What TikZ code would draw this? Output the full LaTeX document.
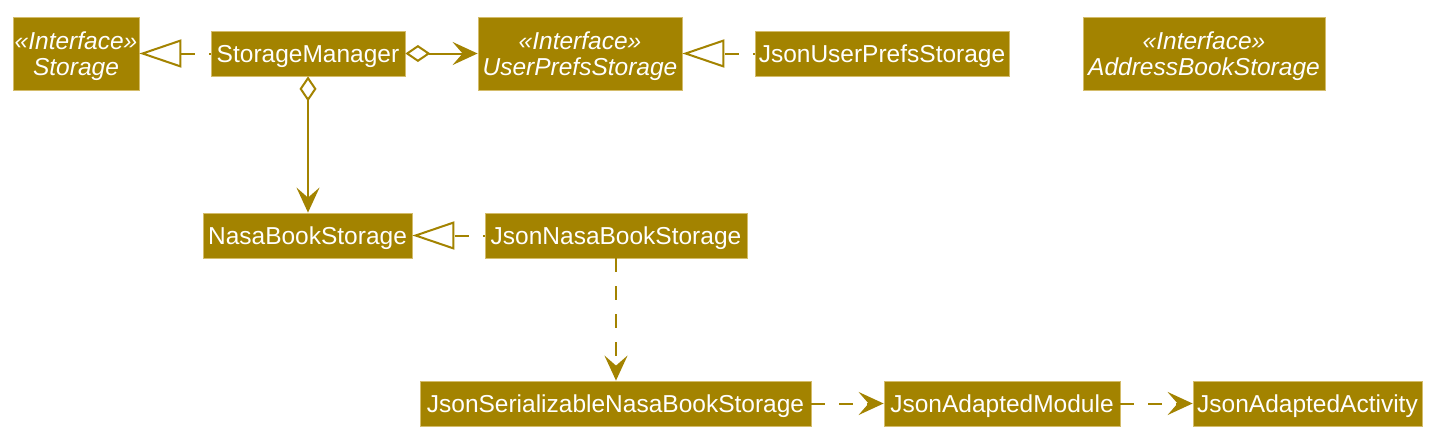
\documentclass[tikz,border=0pt]{standalone}
\usepackage{fontspec}
\setmainfont{Liberation Sans}
\usetikzlibrary{arrows.meta}
\definecolor{stor}{HTML}{A38300}
\definecolor{bord}{HTML}{D4BC6A}
\newcommand{\ifacetext}[1]{\rule{0pt}{22.7pt}«Interface»\\#1}
\begin{document}
\begin{tikzpicture}[x=1pt,y=-1pt,
  clsbase/.style={fill=stor, draw=bord, line width=0.8pt, text=white, inner sep=0pt, align=center},
  cls/.style={clsbase, minimum height=45pt, font=\fontsize{24.5}{28}\selectfont, text height=23pt, text depth=5pt},
  iface/.style={clsbase, minimum height=73pt, font=\fontsize{24.5}{26.5}\selectfont\itshape},
  edge/.style={draw=stor, line width=2pt},
  dsh/.style={edge, dash pattern=on 14pt off 14pt},
  real/.style={dsh, dash phase=12pt, -{Triangle[open, length=42pt, width=28pt, fill=white]}},
  dep/.style={dsh, -{Stealth[length=25pt, width=23pt, inset=10pt]}},
  agg/.style={edge, {Diamond[open, length=25pt, width=17pt, fill=white]}-{Stealth[length=25pt, width=23pt, inset=10pt]}},
]
\useasboundingbox[fill=white] (0,0) rectangle (1444,447);
\node[iface, minimum width=126pt] (st) at (76,53.5) {\ifacetext{Storage}};
\node[cls, minimum width=194pt] (sm) at (308,53.5) {StorageManager};
\node[iface, minimum width=204pt] (ups) at (580,53.5) {\ifacetext{UserPrefsStorage}};
\node[cls, minimum width=254pt] (jups) at (882,53.5) {JsonUserPrefsStorage};
\node[iface, minimum width=242pt] (abs) at (1204,53.5) {\ifacetext{AddressBookStorage}};
\node[cls, minimum width=209pt] (nbs) at (307.5,235.5) {NasaBookStorage};
\node[cls, minimum width=262pt] (jnbs) at (616,235.5) {JsonNasaBookStorage};
\node[cls, minimum width=391pt] (jsnbs) at (615.5,403.5) {JsonSerializableNasaBookStorage};
\node[cls, minimum width=236pt] (jam) at (1002,403.5) {JsonAdaptedModule};
\node[cls, minimum width=229pt] (jaa) at (1307.5,403.5) {JsonAdaptedActivity};

\draw[real] (sm.west) -- (st.east);
\draw[agg] (sm.east) -- (ups.west);
\draw[real] (jups.west) -- (ups.east);
\draw[agg] (sm.south) -- (sm.south |- nbs.north);
\draw[real] (jnbs.west) -- (nbs.east);
\draw[dep] (jnbs.south) -- (jnbs.south |- jsnbs.north);
\draw[dep] (jsnbs.east) -- (jam.west);
\draw[dep] (jam.east) -- (jaa.west);
\end{tikzpicture}
\end{document}
